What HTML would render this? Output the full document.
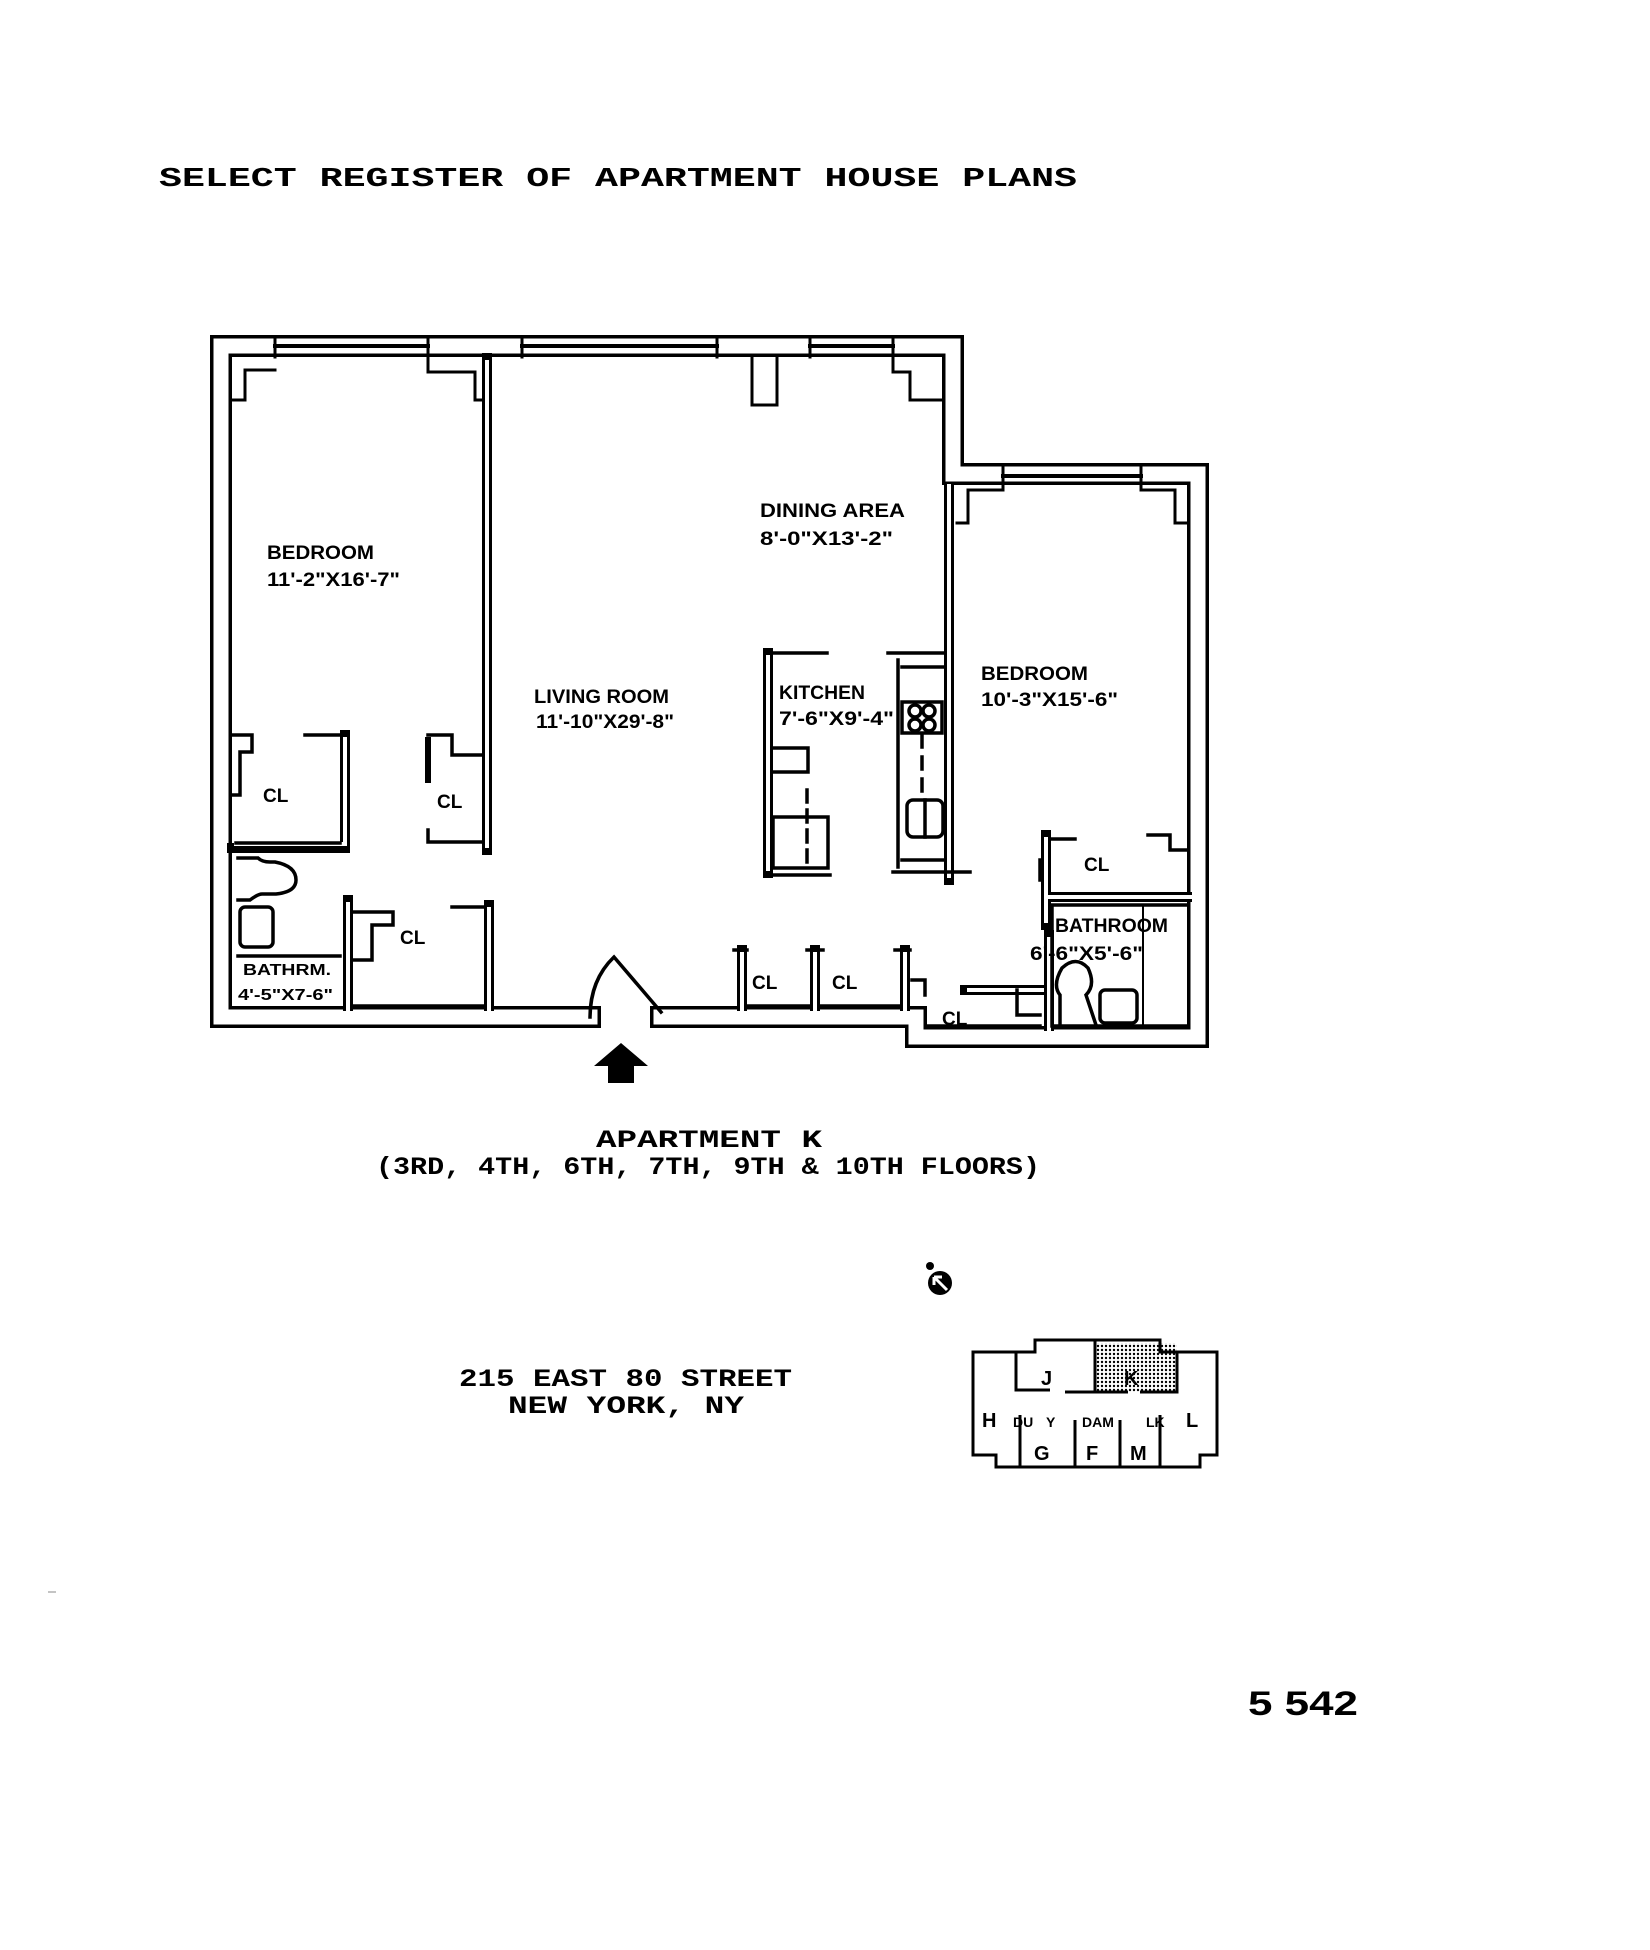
<!DOCTYPE html>
<html><head><meta charset="utf-8"><style>
html,body{margin:0;padding:0;background:#fff;}
svg{display:block;}
.l{font-family:"Liberation Sans",sans-serif;font-weight:bold;font-size:19px;fill:#000;}
.t{font-family:"Liberation Mono",monospace;font-weight:bold;fill:#000;}
</style></head><body>
<svg width="1650" height="1950" viewBox="0 0 1650 1950" xmlns="http://www.w3.org/2000/svg">
<rect width="1650" height="1950" fill="#fff"/>
<text class="t" x="159" y="186" font-size="27" textLength="918" lengthAdjust="spacingAndGlyphs">SELECT REGISTER OF APARTMENT HOUSE PLANS</text>

<g fill="none" stroke-linejoin="miter" stroke-linecap="square">
<!-- outer wall -->
<path d="M221,346 H953 V474 H1198 V1037 H916 V1017 H661 M590,1017 H221 V346" stroke="#000" stroke-width="22"/>
<path d="M221,346 H953 V474 H1198 V1037 H916 V1017 H661 M590,1017 H221 V346" stroke="#fff" stroke-width="15"/>
<!-- window lines -->
<g stroke="#000" stroke-width="4">
<line x1="275" y1="346" x2="428" y2="346"/>
<line x1="522" y1="346" x2="717" y2="346"/>
<line x1="810" y1="346" x2="893" y2="346"/>
<line x1="1003" y1="476" x2="1141" y2="476"/>
</g>
<g stroke="#000" stroke-width="3">
<line x1="275" y1="337" x2="275" y2="357"/><line x1="428" y1="337" x2="428" y2="357"/>
<line x1="522" y1="337" x2="522" y2="357"/><line x1="717" y1="337" x2="717" y2="357"/>
<line x1="810" y1="337" x2="810" y2="357"/><line x1="893" y1="337" x2="893" y2="357"/>
<line x1="1003" y1="467" x2="1003" y2="487"/><line x1="1141" y1="467" x2="1141" y2="487"/>
<path d="M752,358 V405 H777 V358"/>
<path d="M232,400 H245 V370 H275"/>
<path d="M428,358 V372 H475 V400 H484"/>
<path d="M893,358 V372 H910 V400 H943"/>
<path d="M957,523 H968 V490 H1003"/>
<path d="M1141,490 H1175 V523 H1187"/>
</g>
<!-- interior double walls -->
<g stroke="#000" stroke-width="10">
<path d="M487,358 V850"/>
<path d="M345,735 V848 H232"/>
<path d="M348,900 V1006"/>
<path d="M489,905 V1006"/>
<path d="M742,950 V1006"/>
<path d="M815,950 V1006"/>
<path d="M905,950 V1006"/>
<path d="M768,653 V873"/>
<path d="M949,490 V880"/>
<path d="M1046,835 V925"/>
<path d="M1046,897 H1187"/>
<path d="M1049,935 V1026"/>
<path d="M965,990 H1046"/>
</g>
<g stroke="#fff" stroke-width="4">
<path d="M487,362 V846"/>
<path d="M345,739 V844 H236"/>
<path d="M348,904 V1010"/>
<path d="M489,909 V1010"/>
<path d="M742,954 V1010"/>
<path d="M815,954 V1010"/>
<path d="M905,954 V1010"/>
<path d="M768,657 V869"/>
<path d="M949,486 V876"/>
<path d="M1046,839 V921"/>
<path d="M1050,897 H1191"/>
<path d="M1049,939 V1030"/>
<path d="M969,990 H1042"/>
</g>
<g stroke="#000" stroke-width="3.5">
<path d="M232,735 H252 V752 H240 V795 H232"/>
<path d="M305,735 H340"/>
<path d="M236,843 H340"/>
<path d="M428,740 V780" stroke-width="6"/>
<path d="M428,735 H452 V755 H482"/>
<path d="M428,830 V842 H482"/>
<path d="M352,912 H393 V925 H372 V960 H352"/>
<path d="M452,907 H484"/>
<path d="M352,1006 H484"/>
<path d="M238,858 H258 Q262,862 270,862 H275 Q296,866 296,880 Q296,892 276,894 H262 Q258,894 250,900 H238"/>
<rect x="240" y="907" width="33" height="40" rx="5"/>
<path d="M238,956 H340"/>
<path d="M734,950 H747"/><path d="M807,950 H823"/><path d="M895,950 H910"/>
<path d="M747,1006 H810 M820,1006 H900"/>
<path d="M768,653 H827 M768,875 H830"/>
<path d="M773,748 H808 V772 H773"/>
<rect x="773" y="817" width="55" height="51"/>
<path d="M807,790 V868" stroke-dasharray="12,8"/>
<path d="M888,653 H944"/>
<path d="M898,660 V867"/>
<path d="M893,872 H970"/>
<path d="M902,667 H944 M902,860 H944"/>
<rect x="902" y="702" width="40" height="31"/>
<circle cx="915" cy="711" r="6"/><circle cx="929" cy="711" r="6"/>
<circle cx="915" cy="725" r="6"/><circle cx="929" cy="725" r="6"/>
<path d="M922,735 V800" stroke-dasharray="12,10"/>
<rect x="907" y="800" width="36" height="37" rx="6"/>
<path d="M925,800 V837"/>
<path d="M1050,839 H1075"/>
<path d="M1148,835 H1170 V850 H1187"/>
<path d="M1040,860 V880"/>
<path d="M1052,905 H1187 M1052,905 V1026 H1187"/>
<path d="M1143,905 V1026" stroke-width="2"/>
<path d="M1060,1025 V995 Q1052,985 1062,968 Q1076,955 1088,968 Q1096,985 1086,995 L1096,1025"/>
<rect x="1100" y="990" width="37" height="33" rx="5"/>
<path d="M912,980 H925 V995 M1017,990 V1015 H1040"/>
<path d="M927,1026 H1040"/>
<path d="M590,1017 Q590,980 614,957 L661,1012"/>
</g>
</g>

<g class="l">
<text x="267" y="559" textLength="107" lengthAdjust="spacingAndGlyphs">BEDROOM</text>
<text x="267" y="586" textLength="133" lengthAdjust="spacingAndGlyphs">11'-2"X16'-7"</text>
<text x="760" y="517" textLength="145" lengthAdjust="spacingAndGlyphs">DINING AREA</text>
<text x="760" y="545" textLength="133" lengthAdjust="spacingAndGlyphs">8'-0"X13'-2"</text>
<text x="534" y="703" textLength="135" lengthAdjust="spacingAndGlyphs">LIVING ROOM</text>
<text x="536" y="728" textLength="138" lengthAdjust="spacingAndGlyphs">11'-10"X29'-8"</text>
<text x="779" y="699" textLength="86" lengthAdjust="spacingAndGlyphs">KITCHEN</text>
<text x="779" y="725" textLength="115" lengthAdjust="spacingAndGlyphs">7'-6"X9'-4"</text>
<text x="981" y="680" textLength="107" lengthAdjust="spacingAndGlyphs">BEDROOM</text>
<text x="981" y="706" textLength="137" lengthAdjust="spacingAndGlyphs">10'-3"X15'-6"</text>
<text x="263" y="802">CL</text>
<text x="437" y="808">CL</text>
<text x="400" y="944">CL</text>
<text x="752" y="989">CL</text>
<text x="832" y="989">CL</text>
<text x="942" y="1025">CL</text>
<text x="1084" y="871">CL</text>
<text x="1055" y="932" textLength="113" lengthAdjust="spacingAndGlyphs">BATHROOM</text>
<text x="1030" y="960" textLength="113" lengthAdjust="spacingAndGlyphs">6'-6"X5'-6"</text>
<text x="243" y="975" font-size="16" textLength="88" lengthAdjust="spacingAndGlyphs">BATHRM.</text>
<text x="238" y="1000" font-size="16" textLength="95" lengthAdjust="spacingAndGlyphs">4'-5"X7-6"</text>
</g>

<path d="M621,1043 L648,1066 H634 V1083 H608 V1066 H594 Z" fill="#000"/>

<text class="t" x="596" y="1147" font-size="25" textLength="226" lengthAdjust="spacingAndGlyphs">APARTMENT K</text>
<text class="t" x="376" y="1174" font-size="25" textLength="664" lengthAdjust="spacingAndGlyphs">(3RD, 4TH, 6TH, 7TH, 9TH &amp; 10TH FLOORS)</text>
<text class="t" x="459" y="1386" font-size="25" textLength="333" lengthAdjust="spacingAndGlyphs">215 EAST 80 STREET</text>
<text class="t" x="508" y="1413" font-size="25" textLength="236" lengthAdjust="spacingAndGlyphs">NEW YORK, NY</text>

<circle cx="930" cy="1266" r="4" fill="#000"/>
<circle cx="940" cy="1283" r="12" fill="#000"/>
<path d="M934,1277 L947,1290 M934,1277 V1285 M934,1277 H942" stroke="#fff" stroke-width="3" fill="none"/>

<defs><pattern id="dots" width="4" height="4" patternUnits="userSpaceOnUse"><rect width="4" height="4" fill="#fff"/><circle cx="2" cy="2" r="1.2" fill="#000"/></pattern></defs>
<rect x="1096" y="1343" width="81" height="49" fill="url(#dots)"/>
<g fill="none" stroke="#000" stroke-width="3">
<path d="M973,1352 H1035 V1340 H1160 V1352 H1217 V1455 H1200 V1467 H996 V1455 H973 Z"/>
<path d="M1016,1352 V1390 H1050 M1065,1392 H1128 M1140,1392 H1177 V1352"/>
<path d="M1095,1340 V1392"/>
<path d="M1020,1415 V1467 M1075,1420 V1467 M1120,1420 V1467 M1160,1415 V1467"/>
</g>
<g font-family="Liberation Sans,sans-serif" font-weight="bold" font-size="20" fill="#000">
<text x="1041" y="1385">J</text><text x="1124" y="1385">K</text>
<text x="982" y="1427">H</text><text x="1186" y="1427">L</text>
<text x="1034" y="1460">G</text><text x="1086" y="1460">F</text><text x="1130" y="1460">M</text>
<text x="1013" y="1427" font-size="14">DU</text><text x="1046" y="1427" font-size="14">Y</text>
<text x="1082" y="1427" font-size="14">DAM</text><text x="1146" y="1427" font-size="14">LK</text>
</g>

<text x="1248" y="1715" font-family="Liberation Sans,sans-serif" font-weight="bold" font-size="34" textLength="110" lengthAdjust="spacingAndGlyphs">5 542</text>
<line x1="48" y1="1592" x2="56" y2="1592" stroke="#888" stroke-width="1"/>
</svg>
</body></html>
